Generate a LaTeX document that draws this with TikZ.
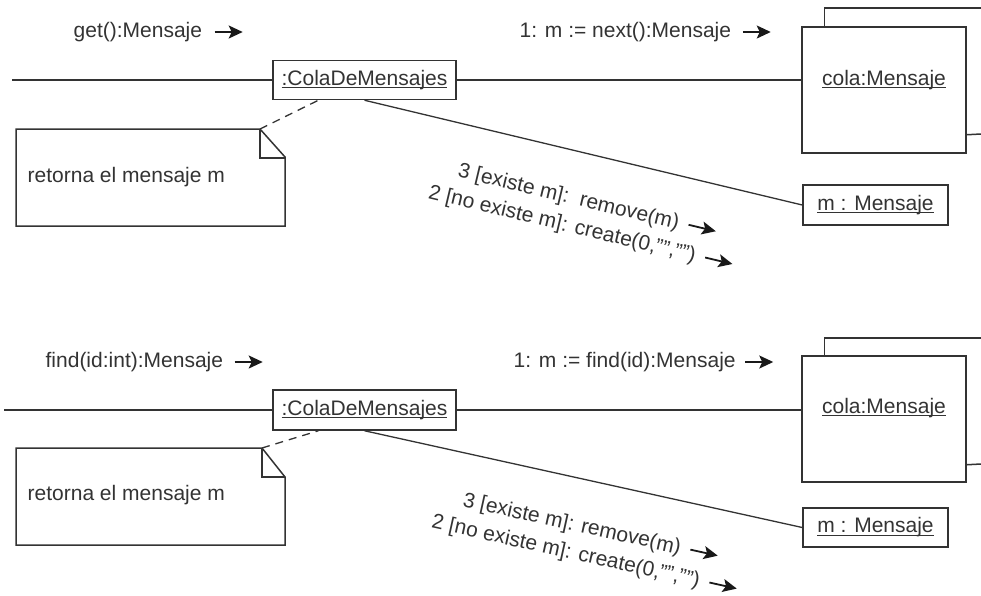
\documentclass[tikz,border=0pt]{standalone}
\usepackage{fontspec}
\setmainfont{Liberation Sans}
\usetikzlibrary{arrows.meta,calc}
\colorlet{ink}{black!80}
% underline close to the baseline
\newcommand{\objname}[1]{\setbox0\hbox{#1}\rlap{\rule[-3pt]{\wd0}{1.3pt}}\box0}
% message arrow inside a label
\newcommand{\sendarrow}{\hspace{9pt}\tikz[baseline=-7pt]\draw[msg] (0pt,0pt) -- (28pt,0pt);}

\begin{document}
\begin{tikzpicture}[x=1pt,y=-1pt,
    font=\fontsize{21pt}{28pt}\selectfont, color=ink, line width=1.3pt,
    obj/.style={draw, line width=1.5pt, inner sep=0pt},
    frame/.style={line width=1.5pt, line join=miter},
    msg/.style={-{Stealth[length=14pt,width=13pt,inset=3pt]}, line width=1.8pt, black!90},
    lbl/.style={inner sep=0pt},
    link/.style={dash pattern=on 8pt off 6pt}]
  \useasboundingbox (0,0) rectangle (981,595);

  % --- get() ---
  \node[lbl, anchor=west] (callA) at (73,32) {get():Mensaje};
  \draw[msg] ([xshift=12pt]callA.east) -- ++(28,0);
  \node[lbl, anchor=west] (nextA) at (519,32) {1: m := next():Mensaje};
  \draw[msg] ([xshift=11pt]nextA.east) -- ++(28,0);

  \node[obj, minimum width=183pt, minimum height=39pt] (colA) at (364.5,80) {\objname{:ColaDeMensajes}};
  \node[obj, minimum width=164pt, minimum height=126pt] (colaA) at (884,90) {};
  \node[lbl] (colaAname) at ([yshift=10pt]colaA.center) {\objname{cola:Mensaje}};
  \draw[frame] ([xshift=23pt]colaA.north west) |- (981,8);
  \draw[frame] ([yshift=19pt]colaA.south east) -- (981,134);
  \node[obj, minimum width=145pt, minimum height=40pt] (mA) at (875.5,205) {\objname{m : Mensaje}};

  \coordinate (startA) at (12,80);
  \draw (startA) -- (colA.west);
  \draw (colA.east) -- (colA.east -| colaA.west);
  \draw (colA.south) -- (mA.west);

  % note
  \coordinate (noteA) at (260,129);
  \draw[frame] (16,129) -- (noteA) -- (285,157) -- (285,226) -- (16,226) -- cycle;
  \draw[frame] (noteA) -- (260,158) -- (285,158);
  \node[lbl, anchor=west] (noteAtext) at (27,177) {retorna el mensaje m};
  \draw[link] (noteA) -- ($(colA.south west)!0.25!(colA.south east)$);

  \node[lbl, rotate=-13.4, align=center] (msgsA) at (584.1,215.9)
    {3 [existe m]:\ \ remove(m)\sendarrow\\2 [no existe m]: create(0,"","")\sendarrow};

  % --- find() ---
  \node[lbl, anchor=west] (callB) at (45,362) {find(id:int):Mensaje};
  \draw[msg] ([xshift=11pt]callB.east) -- ++(28,0);
  \node[lbl, anchor=west] (nextB) at (513,362) {1: m := find(id):Mensaje};
  \draw[msg] ([xshift=9pt]nextB.east) -- ++(28,0);

  \node[obj, minimum width=183pt, minimum height=40pt] (colB) at (364.5,410) {\objname{:ColaDeMensajes}};
  \node[obj, minimum width=164pt, minimum height=126pt] (colaB) at (884,419) {};
  \node[lbl] (colaBname) at ([yshift=11pt]colaB.center) {\objname{cola:Mensaje}};
  \draw[frame] ([xshift=23pt]colaB.north west) |- (981,338);
  \draw[frame] ([yshift=18pt]colaB.south east) -- (981,464);
  \node[obj, minimum width=145pt, minimum height=39pt] (mB) at (875.5,527.5) {\objname{m : Mensaje}};

  \coordinate (startB) at (4,410);
  \draw (startB) -- (colB.west);
  \draw (colB.east) -- (colB.east -| colaB.west);
  \draw (colB.south) -- (mB.west);

  % note
  \coordinate (noteB) at (262,448);
  \draw[frame] (16,448) -- (noteB) -- (285,477) -- (285,545) -- (16,545) -- cycle;
  \draw[frame] (noteB) -- (262,477) -- (285,477);
  \node[lbl, anchor=west] (noteBtext) at (27,495) {retorna el mensaje m};
  \draw[link] (noteB) -- ($(colB.south west)!0.25!(colB.south east)$);

  \node[lbl, rotate=-12.5, align=center] (msgsB) at (587.7,542.8)
    {3 [existe m]: remove(m)\sendarrow\\2 [no existe m]: create(0,"","")\sendarrow};
\end{tikzpicture}
\end{document}
